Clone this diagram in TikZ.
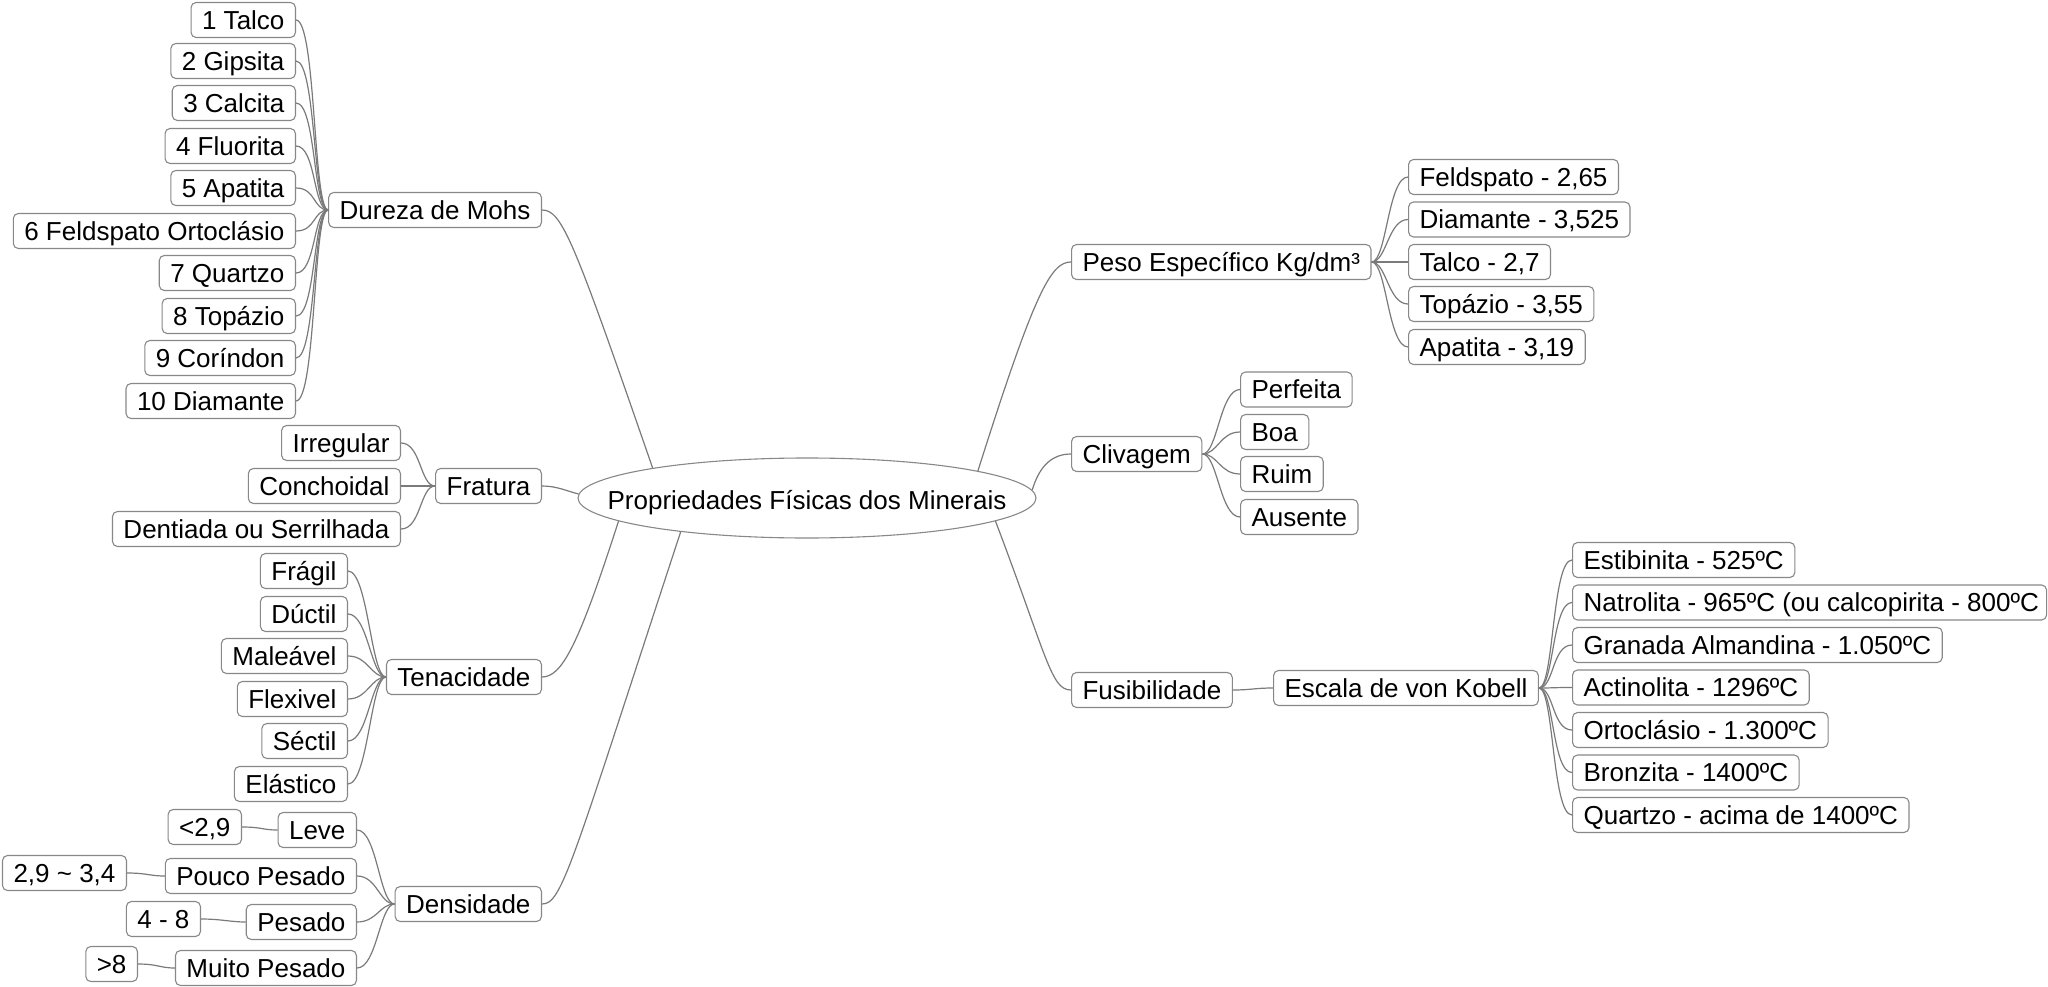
\documentclass[tikz,border=0pt]{standalone}
\usepackage{fontspec}
\setmainfont{Liberation Sans}
\usetikzlibrary{shapes.geometric,calc}
\definecolor{linegray}{HTML}{7A7A7A}
\definecolor{boxgray}{HTML}{888888}
\newcommand{\fsz}{\fontsize{26pt}{30pt}\selectfont}
\tikzset{
  box/.style={draw=boxgray, line width=1.1pt, rounded corners=5pt, fill=white,
    inner xsep=11pt, inner ysep=0pt, text height=22pt, text depth=3.4pt,
    minimum height=35pt, font=\fsz},
  conn/.style={draw=linegray, line width=1.2pt},
}
\begin{document}
\begin{tikzpicture}[x=1pt,y=-1pt]
\useasboundingbox (0,0) rectangle (2048,987);

% central node
\node[ellipse, draw=boxgray, line width=1.1pt, fill=white, minimum width=458pt,
  minimum height=80pt, inner sep=0pt, text height=0pt, text depth=0pt, font=\fsz] (root) at (807,498)
  {\makebox[0pt]{\raisebox{-11pt}{Propriedades Físicas dos Minerais}}};

% ---- Dureza de Mohs
\node[box, anchor=east] (mohs) at (542,210) {Dureza de Mohs};
\node[box, anchor=east] (d1) at (296,20) {1 Talco};
\node[box, anchor=east] (d2) at (296,61) {2 Gipsita};
\node[box, anchor=east] (d3) at (296,103) {3 Calcita};
\node[box, anchor=east] (d4) at (296,146) {4 Fluorita};
\node[box, anchor=east] (d5) at (296,188) {5 Apatita};
\node[box, anchor=east] (d6) at (296,231) {6 Feldspato Ortoclásio};
\node[box, anchor=east] (d7) at (296,273) {7 Quartzo};
\node[box, anchor=east] (d8) at (296,316) {8 Topázio};
\node[box, anchor=east] (d9) at (296,358) {9 Coríndon};
\node[box, anchor=east] (d10) at (296,401) {10 Diamante};
\foreach \n in {d1,d2,d3,d4,d5,d6,d7,d8,d9,d10}
  \draw[conn] (\n.east) .. controls +(20,0) and +(-15,0) .. (mohs.west);

% ---- Fratura
\node[box, anchor=east] (fr) at (542,486) {Fratura};
\node[box, anchor=east] (fr1) at (401,443) {Irregular};
\node[box, anchor=east] (fr2) at (401,486) {Conchoidal};
\node[box, anchor=east] (fr3) at (401,529) {Dentiada ou Serrilhada};
\foreach \n in {fr1,fr2,fr3}
  \draw[conn] (\n.east) .. controls +(20,0) and +(-15,0) .. (fr.west);

% ---- Tenacidade
\node[box, anchor=east] (ten) at (542,677) {Tenacidade};
\node[box, anchor=east] (t1) at (348,571) {Frágil};
\node[box, anchor=east] (t2) at (348,614) {Dúctil};
\node[box, anchor=east] (t3) at (348,656) {Maleável};
\node[box, anchor=east] (t4) at (348,699) {Flexivel};
\node[box, anchor=east] (t5) at (348,741) {Séctil};
\node[box, anchor=east] (t6) at (348,784) {Elástico};
\foreach \n in {t1,t2,t3,t4,t5,t6}
  \draw[conn] (\n.east) .. controls +(20,0) and +(-15,0) .. (ten.west);

% ---- Densidade
\node[box, anchor=east] (den) at (542,904) {Densidade};
\node[box, anchor=east] (leve) at (357,830) {Leve};
\node[box, anchor=east] (pouco) at (357,876) {Pouco Pesado};
\node[box, anchor=east] (pes) at (357,922) {Pesado};
\node[box, anchor=east] (muito) at (357,968) {Muito Pesado};
\foreach \n in {leve,pouco,pes,muito}
  \draw[conn] (\n.east) .. controls +(20,0) and +(-15,0) .. (den.west);
\node[box, anchor=east] (v1) at (242,827) {<2,9};
\node[box, anchor=east] (v2) at (127,873) {2,9 \char"7E{} 3,4};
\node[box, anchor=east] (v3) at (201,919) {4 - 8};
\node[box, anchor=east] (v4) at (138,964) {>8};
\draw[conn] (v1.east) .. controls +(20,0) and +(-15,0) .. (leve.west);
\draw[conn] (v2.east) .. controls +(20,0) and +(-15,0) .. (pouco.west);
\draw[conn] (v3.east) .. controls +(20,0) and +(-15,0) .. (pes.west);
\draw[conn] (v4.east) .. controls +(20,0) and +(-15,0) .. (muito.west);

% ---- Peso Especifico
\node[box, anchor=west] (peso) at (1071,262) {Peso Específico Kg/dm³};
\node[box, anchor=west] (p1) at (1408,177) {Feldspato - 2,65};
\node[box, anchor=west] (p2) at (1408,219.5) {Diamante - 3,525};
\node[box, anchor=west] (p3) at (1408,262) {Talco - 2,7};
\node[box, anchor=west] (p4) at (1408,304) {Topázio - 3,55};
\node[box, anchor=west] (p5) at (1408,347) {Apatita - 3,19};
\foreach \n in {p1,p2,p3,p4,p5}
  \draw[conn] (peso.east) .. controls +(15,0) and +(-20,0) .. (\n.west);

% ---- Clivagem
\node[box, anchor=west] (cliv) at (1071,454) {Clivagem};
\node[box, anchor=west] (cv1) at (1240,389.5) {Perfeita};
\node[box, anchor=west] (cv2) at (1240,432) {Boa};
\node[box, anchor=west] (cv3) at (1240,474) {Ruim};
\node[box, anchor=west] (cv4) at (1240,517) {Ausente};
\foreach \n in {cv1,cv2,cv3,cv4}
  \draw[conn] (cliv.east) .. controls +(15,0) and +(-20,0) .. (\n.west);

% ---- Fusibilidade
\node[box, anchor=west] (fus) at (1071,690) {Fusibilidade};
\node[box, anchor=west] (kob) at (1273,688) {Escala de von Kobell};
\draw[conn] (fus.east) .. controls +(18,0) and +(-18,0) .. (kob.west);
\node[box, anchor=west] (k1) at (1572,560) {Estibinita - 525ºC};
\node[box, anchor=west] (k2) at (1572,602.5) {\makebox[452pt][l]{Natrolita - 965ºC (ou calcopirita - 800ºC}};
\node[box, anchor=west] (k3) at (1572,645) {Granada Almandina - 1.050ºC};
\node[box, anchor=west] (k4) at (1572,687.5) {Actinolita - 1296ºC};
\node[box, anchor=west] (k5) at (1572,730) {Ortoclásio - 1.300ºC};
\node[box, anchor=west] (k6) at (1572,772.5) {Bronzita - 1400ºC};
\node[box, anchor=west] (k7) at (1572,815) {Quartzo - acima de 1400ºC};
\foreach \n in {k1,k2,k3,k4,k5,k6,k7}
  \draw[conn] (kob.east) .. controls +(15,0) and +(-20,0) .. (\n.west);

% ---- main branches
\draw[conn] (mohs.east) .. controls +(20,0) and +(-79,-228) .. (root.169);
\draw[conn] (fr.east) .. controls +(15,0) and +(-12,-3) .. (root.179);
\draw[conn] (ten.east) .. controls +(20,0) and +(-40,124) .. (root.187);
\draw[conn] (den.east) .. controls +(20,0) and +(-110,335) .. (root.195);
\draw[conn] (peso.west) .. controls +(-20,0) and +(57,-180) .. (root.9);
\draw[conn] (cliv.west) .. controls +(-22,0) and +(6,-20) .. (root.2);
\draw[conn] (fus.west) .. controls +(-20,0) and +(52,137) .. (root.353);
\end{tikzpicture}
\end{document}
